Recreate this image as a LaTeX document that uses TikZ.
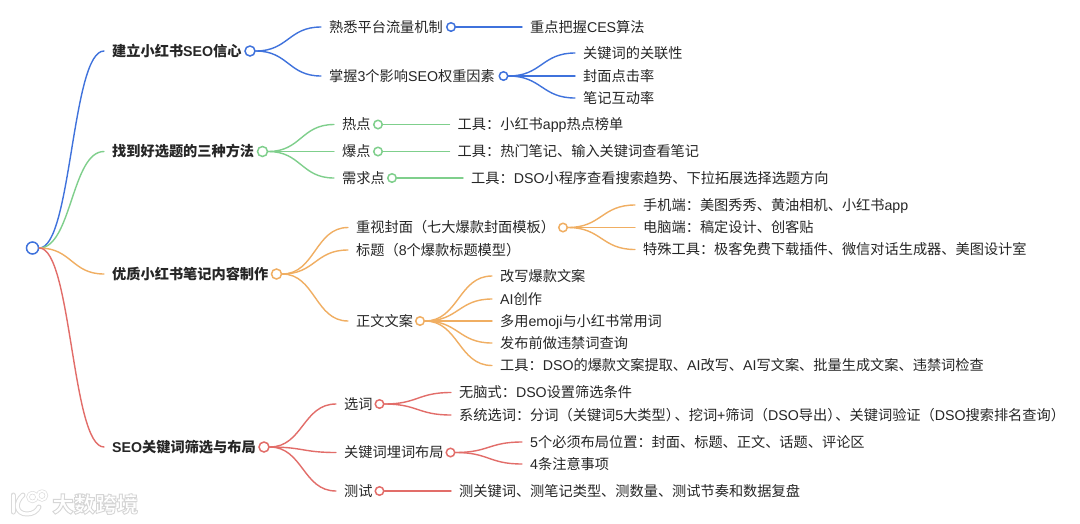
\documentclass[tikz,border=0pt]{standalone}
\usepackage{fontspec}
\setmainfont{Noto Sans CJK SC}
\newfontfamily\latfont{Liberation Sans}
\newcommand{\La}[1]{{\latfont #1}}
\usetikzlibrary{calc}
\definecolor{cblue}{HTML}{3F72DC}
\definecolor{cgreen}{HTML}{7FCF8C}
\definecolor{corange}{HTML}{F0AE62}
\definecolor{cred}{HTML}{E26D69}
\definecolor{ink}{HTML}{262626}
\definecolor{wmgray}{HTML}{DADADA}
\tikzset{
  txt/.style={anchor=west,inner xsep=#1,inner ysep=0pt,text height=12pt,text depth=2pt,text=ink,font=\fontsize{14.2}{16}\selectfont},
  txt/.default=8pt,
  head/.style={txt=8pt,font=\fontsize{14.2}{16}\selectfont\bfseries},
  dot/.style={circle,draw=#1,fill=white,line width=1.5pt,inner sep=0pt,minimum size=8.5pt},
  link/.style={draw=#1,line width=1.4pt,line cap=round},
  wmline/.style={line cap=round,line join=round}
}
\newcommand{\conn}[3]{\draw[link=#1] let \p1=(#2.east),\p2=(#3.west) in (\p1) .. controls ({0.5*(\x1+\x2)},\y1) and ({0.5*(\x1+\x2)},\y2) .. (\p2);}
\begin{document}
\begin{tikzpicture}[x=1pt,y=-1pt]
\useasboundingbox (0,0) rectangle (1080,523);
\fill[white] (0,0) rectangle (1080,523);
% root
\node[dot=cblue,minimum size=12pt] (root) at (32.5,248) {};
% level 1
\node[head] (a) at (104,51) {建立小红书\La{SEO}信心};
\node[dot=cblue,minimum size=10pt] (ac) at (250,51) {};
\node[head] (b) at (104,151.5) {找到好选题的三种方法};
\node[dot=cgreen,minimum size=10pt] (bc) at (262.5,151.5) {};
\node[head] (c) at (104,274) {优质小红书笔记内容制作};
\node[dot=corange,minimum size=10pt] (cc) at (276.5,274) {};
\node[head] (d) at (104,447) {\La{SEO}关键词筛选与布局};
\node[dot=cred,minimum size=10pt] (dc) at (264,447) {};
\foreach \t/\k in {a/cblue,b/cgreen,c/corange,d/cred}{\conn{\k}{root}{\t}}
% blue
\node[txt] (a1) at (321,27) {熟悉平台流量机制};
\node[dot=cblue] (a1c) at (451,27) {};
\node[txt] (a2) at (321,76) {掌握\La{3}个影响\La{SEO}权重因素};
\node[dot=cblue] (a2c) at (503.5,76) {};
\node[txt] (a11) at (522,27) {重点把握\La{CES}算法};
\node[txt] (a21) at (575,53) {关键词的关联性};
\node[txt] (a22) at (575,76) {封面点击率};
\node[txt] (a23) at (575,98) {笔记互动率};
\conn{cblue}{ac}{a1}\conn{cblue}{ac}{a2}\conn{cblue}{a1c}{a11}
\conn{cblue}{a2c}{a21}\conn{cblue}{a2c}{a22}\conn{cblue}{a2c}{a23}
% green
\node[txt] (b1) at (334,124.5) {热点};
\node[dot=cgreen] (b1c) at (378,124.5) {};
\node[txt] (b2) at (334,151.5) {爆点};
\node[dot=cgreen] (b2c) at (378,151.5) {};
\node[txt] (b3) at (334,178) {需求点};
\node[dot=cgreen] (b3c) at (392,178) {};
\node[txt] (b11) at (449.5,124.5) {工具：小红书\La{app}热点榜单};
\node[txt] (b21) at (449.5,151.5) {工具：热门笔记、输入关键词查看笔记};
\node[txt] (b31) at (463,178) {工具：\La{DSO}小程序查看搜索趋势、下拉拓展选择选题方向};
\conn{cgreen}{bc}{b1}\conn{cgreen}{bc}{b2}\conn{cgreen}{bc}{b3}
\conn{cgreen}{b1c}{b11}\conn{cgreen}{b2c}{b21}\conn{cgreen}{b3c}{b31}
% orange
\node[txt] (c1) at (348,227.5) {重视封面（七大爆款封面模板）};
\node[dot=corange] (c1c) at (563,227.5) {};
\node[txt] (c2) at (348,250) {标题（\La{8}个爆款标题模型）};
\node[txt] (c3) at (348,321) {正文文案};
\node[dot=corange] (c3c) at (420,321) {};
\node[txt] (c11) at (635,205) {手机端：美图秀秀、黄油相机、小红书\La{app}};
\node[txt] (c12) at (635,227.5) {电脑端：稿定设计、创客贴};
\node[txt] (c13) at (635,249.5) {特殊工具：极客免费下载插件、微信对话生成器、美图设计室};
\node[txt] (c31) at (492,276) {改写爆款文案};
\node[txt] (c32) at (492,299) {\La{AI}创作};
\node[txt] (c33) at (492,321) {多用\La{emoji}与小红书常用词};
\node[txt] (c34) at (492,343) {发布前做违禁词查询};
\node[txt] (c35) at (492,365.5) {工具：\La{DSO}的爆款文案提取、\La{AI}改写、\La{AI}写文案、批量生成文案、违禁词检查};
\conn{corange}{cc}{c1}\conn{corange}{cc}{c2}\conn{corange}{cc}{c3}
\conn{corange}{c1c}{c11}\conn{corange}{c1c}{c12}\conn{corange}{c1c}{c13}
\conn{corange}{c3c}{c31}\conn{corange}{c3c}{c32}\conn{corange}{c3c}{c33}\conn{corange}{c3c}{c34}\conn{corange}{c3c}{c35}
% red
\node[txt] (d1) at (336,404) {选词};
\node[dot=cred] (d1c) at (379.5,404) {};
\node[txt] (d2) at (336,452.5) {关键词埋词布局};
\node[dot=cred] (d2c) at (450.5,452.5) {};
\node[txt] (d3) at (336,491) {测试};
\node[dot=cred] (d3c) at (379.5,491) {};
\node[txt] (d11) at (451,392.5) {无脑式：\La{DSO}设置筛选条件};
\node[txt] (d12) at (451,415) {系统选词：分词（关键词\La{5}大类型）\kern-5.5pt、挖词\La{+}筛词（\La{DSO}导出）\kern-6pt、关键词验证（\La{DSO}搜索排名查询）};
\node[txt] (d21) at (522,442) {\La{5}个必须布局位置：封面、标题、正文、话题、评论区};
\node[txt] (d22) at (522,464) {\La{4}条注意事项};
\node[txt] (d31) at (451,491) {测关键词、测笔记类型、测数量、测试节奏和数据复盘};
\conn{cred}{dc}{d1}\conn{cred}{dc}{d2}\conn{cred}{dc}{d3}
\conn{cred}{d1c}{d11}\conn{cred}{d1c}{d12}
\conn{cred}{d2c}{d21}\conn{cred}{d2c}{d22}\conn{cred}{d3c}{d31}
% watermark
\foreach \w/\c in {5/wmgray,3/white}{
  \draw[wmline,draw=\c,line width=\w pt] (13,495) -- (13,512);
  \draw[wmline,draw=\c,line width=\w pt] (23,495) .. controls (14,503) and (16,514) .. (27,514) .. controls (33,514) and (37,511) .. (39,507);
  \draw[wmline,draw=\c,line width=.65*\w pt] (32.5,497) circle (4.5);
  \draw[wmline,draw=\c,line width=.65*\w pt] (42,495.5) circle (4.5);
}
\node[anchor=west,inner sep=0pt,font=\fontsize{21.5}{24}\selectfont\bfseries,text=white] (wm) at (52,504) {\special{pdf:code q 2 Tr 0.9 w 0.84 0.84 0.84 RG 1 1 1 rg}大数跨境\special{pdf:code Q}};
\end{tikzpicture}
\end{document}
